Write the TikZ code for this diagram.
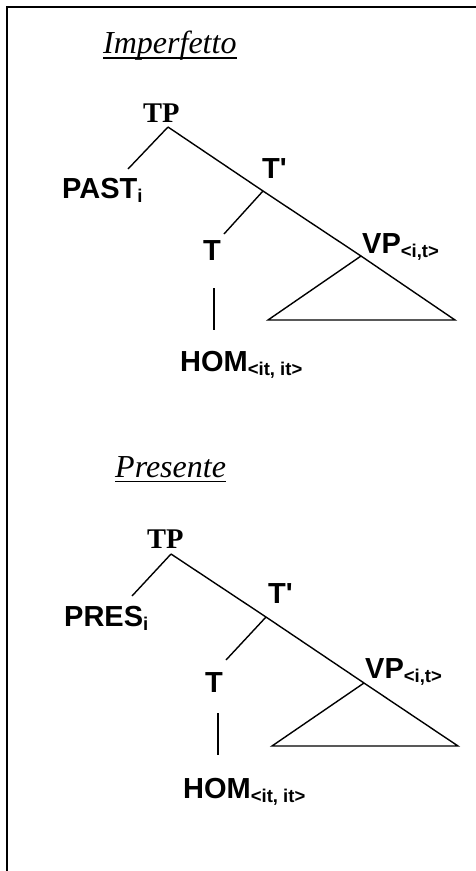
\documentclass[tikz,border=0pt]{standalone}
\usepackage{fontspec}
\newfontfamily\serfont{Liberation Serif}
\newfontfamily\sanfont{Liberation Sans}
\tikzset{
  x=1pt, y=-1pt,
  frame/.style={line width=2pt, line cap=rect},
  branch/.style={line width=1.4pt},
  title/.style={anchor=base west, inner sep=0pt, font=\serfont\itshape\fontsize{32}{32}\selectfont},
  cat/.style={anchor=base west, inner sep=0pt, font=\serfont\bfseries\fontsize{28.5}{28.5}\selectfont},
  lab/.style={anchor=base west, inner sep=0pt, font=\sanfont\bfseries\fontsize{29}{29}\selectfont},
}
\newcommand{\sbs}[1]{\raisebox{-4pt}{\fontsize{18.5}{18.5}\selectfont #1}}
\begin{document}
\begin{tikzpicture}
\useasboundingbox (0,0) rectangle (476,871);
% frame
\draw[frame] (476,7) -- (7,7) -- (7,871);

% ---------- Imperfetto tree ----------
\node[title] (ti1) at (103,53) {Imperfetto};
\draw[line width=1.5pt] ([yshift=-4.8pt]ti1.base west) -- ([yshift=-4.8pt]ti1.base east);
\node[cat] (tp1) at (143,122) {TP};
\node[lab] (past1) at (62,198) {PAST\sbs{i}};
\node[lab] (tb1) at (262,178) {T\textquotesingle};
\node[lab] (t1) at (203,260) {T};
\node[lab] (vp1) at (362,253) {VP\sbs{<i,t>}};
\node[lab] (hom1) at (180,371) {HOM\sbs{<it, it>}};
\coordinate (a1) at (168,127);
\coordinate (pe1) at (128,169);
\coordinate (j1) at (263,191);
\coordinate (te1) at (224,234);
\coordinate (v1) at (361,256);
\coordinate (l1) at (268,320);
\coordinate (r1) at (455,320);
\coordinate (s1) at (214,288);
\coordinate (e1) at (214,330);
\draw[branch] (a1) -- (pe1);
\draw[branch] (a1) -- (j1) -- (v1) -- (r1) -- (l1) -- (v1);
\draw[branch] (j1) -- (te1);
\draw[branch] (s1) -- (e1);

% ---------- Presente tree ----------
\node[title] (ti2) at (115,477) {Presente};
\draw[line width=1.5pt] ([yshift=-4.5pt]ti2.base west) -- ([yshift=-4.5pt]ti2.base east);
\node[cat] (tp2) at (147,548) {TP};
\node[lab] (pres2) at (64,626) {PRES\sbs{i}};
\node[lab] (tb2) at (268,603) {T\textquotesingle};
\node[lab] (t2) at (205,692) {T};
\node[lab] (vp2) at (365,678) {VP\sbs{<i,t>}};
\node[lab] (hom2) at (183,798) {HOM\sbs{<it, it>}};
\coordinate (a2) at (171,554);
\coordinate (pe2) at (132,596);
\coordinate (j2) at (266,617);
\coordinate (te2) at (226,660);
\coordinate (v2) at (364,683);
\coordinate (l2) at (272,746);
\coordinate (r2) at (458,746);
\coordinate (s2) at (218,713);
\coordinate (e2) at (218,755);
\draw[branch] (a2) -- (pe2);
\draw[branch] (a2) -- (j2) -- (v2) -- (r2) -- (l2) -- (v2);
\draw[branch] (j2) -- (te2);
\draw[branch] (s2) -- (e2);
\end{tikzpicture}
\end{document}
